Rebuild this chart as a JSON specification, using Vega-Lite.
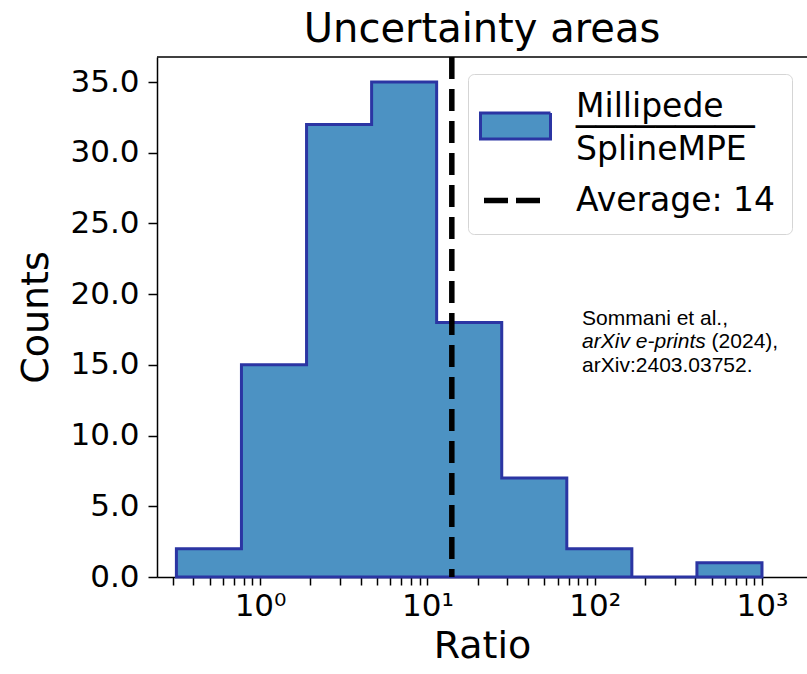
{
  "$schema": "https://vega.github.io/schema/vega-lite/v6.json",
  "width": 650,
  "height": 520,
  "autosize": {"type": "none"},
  "padding": {"left": 157, "top": 57, "right": 0, "bottom": 97},
  "background": "white",
  "title": {"text": "Uncertainty areas", "fontSize": 40, "font": "DejaVu Sans", "fontWeight": "normal", "color": "black", "anchor": "middle", "offset": 4},
  "config": {
    "view": {"stroke": null},
    "axis": {"labelFont": "DejaVu Sans", "titleFont": "DejaVu Sans", "titleFontWeight": "normal", "labelColor": "black", "titleColor": "black", "domainColor": "black", "tickColor": "black", "domainWidth": 1.5, "tickWidth": 1.5, "grid": false}
  },
  "data": {"values": [{}]},
  "datasets": {
    "hist": [
      {"edge": 0.3162, "count": 2},
      {"edge": 0.774, "count": 15},
      {"edge": 1.896, "count": 32},
      {"edge": 4.642, "count": 35},
      {"edge": 11.36, "count": 18},
      {"edge": 27.83, "count": 7},
      {"edge": 68.13, "count": 2},
      {"edge": 166.8, "count": 0},
      {"edge": 408.4, "count": 1},
      {"edge": 1000, "count": 1}
    ]
  },
  "layer": [
    {
      "data": {"name": "hist"},
      "mark": {"type": "area", "interpolate": "step-after", "stroke": "#2b35a3", "strokeWidth": 3, "strokeJoin": "miter"},
      "encoding": {
        "x": {"field": "edge", "type": "quantitative", "scale": {"type": "log", "domain": [0.2421, 1858], "nice": false},
          "axis": {"orient": "bottom",
            "values": [0.3, 0.4, 0.5, 0.6, 0.7, 0.8, 0.9, 1, 2, 3, 4, 5, 6, 7, 8, 9, 10, 20, 30, 40, 50, 60, 70, 80, 90, 100, 200, 300, 400, 500, 600, 700, 800, 900, 1000],
            "labelExpr": "datum.value == 1 ? '10⁰' : datum.value == 10 ? '10¹' : datum.value == 100 ? '10²' : datum.value == 1000 ? '10³' : ''",
            "labelFontSize": 31, "labelPadding": 6, "labelOverlap": false, "labelFlush": false,
            "tickSize": 8,
            "encode": {"ticks": {"update": {"y2": {"signal": "indexof([1, 10, 100, 1000], datum.value) >= 0 ? 8 : 4.5"}}}},
            "title": "Ratio", "titleFontSize": 38, "titlePadding": 6}},
        "y": {"field": "count", "type": "quantitative", "scale": {"domain": [0, 36.77], "nice": false, "zero": true},
          "axis": {"values": [0, 5, 10, 15, 20, 25, 30, 35], "format": ".1f", "labelFontSize": 31, "tickSize": 9, "labelPadding": 9, "title": "Counts", "titleFontSize": 38, "titlePadding": 14}},
        "color": {"datum": "hist", "scale": {"domain": ["hist", "avg"], "range": ["#4c92c3", "#000000"]},
          "legend": {
            "orient": "none", "legendX": 311, "legendY": 17, "title": null,
            "labelExpr": "datum.value == 'hist' ? ['\u00a0Millipede', '─────────', 'SplineMPE'] : 'Average: 14'",
            "labelFont": "DejaVu Sans", "labelFontSize": 33, "labelColor": "black", "labelLimit": 500, "labelOffset": 44,
            "symbolSize": 4900, "symbolOffset": 15, "symbolType": "M-1,0.186H1V0.929H-1Z", "symbolStrokeWidth": 3, "symbolStrokeColor": "#2b35a3",
            "padding": 16, "rowPadding": 17,
            "fillColor": "rgba(255,255,255,0.8)", "strokeColor": "#d5d5d5", "cornerRadius": 6,
            "encode": {
              "labels": {"update": {"lineHeight": {"value": 21.5}}},
              "symbols": {"update": {
                "shape": {"signal": "datum.value == 'avg' ? 'stroke' : 'M-1,0.186H1V0.929H-1Z'"},
                "size": {"signal": "datum.value == 'avg' ? 3969 : 4900"},
                "fill": {"signal": "datum.value == 'avg' ? 'transparent' : '#4c92c3'"},
                "stroke": {"signal": "datum.value == 'avg' ? 'black' : '#2b35a3'"},
                "strokeWidth": {"signal": "datum.value == 'avg' ? 5.5 : 3"},
                "strokeDash": {"signal": "datum.value == 'avg' ? [24, 8] : [1, 0]"}
              }}
            }
          }
        }
      }
    },
    {
      "data": {"values": [{"average": 14}]},
      "mark": {"type": "rule", "strokeDash": [22, 10], "strokeWidth": 5.5, "color": "black"},
      "encoding": {
        "x": {"field": "average", "type": "quantitative"}
      }
    },
    {
      "mark": {"type": "rule", "strokeWidth": 1.5, "color": "black"},
      "encoding": {
        "y": {"datum": 36.77, "type": "quantitative"}
      }
    },
    {
      "mark": {"type": "text", "text": "Sommani et al.,", "font": "Liberation Sans", "fontSize": 21, "align": "left", "baseline": "alphabetic", "color": "black"},
      "encoding": {
        "x": {"datum": 84.1, "type": "quantitative"},
        "y": {"datum": 17.82, "type": "quantitative"}
      }
    },
    {
      "mark": {"type": "text", "text": "arXiv e-prints", "font": "Liberation Sans", "fontStyle": "italic", "fontSize": 21, "align": "left", "baseline": "alphabetic", "color": "black"},
      "encoding": {
        "x": {"datum": 84.1, "type": "quantitative"},
        "y": {"datum": 16.2, "type": "quantitative"}
      }
    },
    {
      "mark": {"type": "text", "text": "(2024),", "font": "Liberation Sans", "fontSize": 21, "align": "left", "baseline": "alphabetic", "color": "black"},
      "encoding": {
        "x": {"datum": 500, "type": "quantitative"},
        "y": {"datum": 16.2, "type": "quantitative"}
      }
    },
    {
      "mark": {"type": "text", "text": "arXiv:2403.03752.", "font": "Liberation Sans", "fontSize": 21, "align": "left", "baseline": "alphabetic", "color": "black"},
      "encoding": {
        "x": {"datum": 84.1, "type": "quantitative"},
        "y": {"datum": 14.5, "type": "quantitative"}
      }
    }
  ]
}
